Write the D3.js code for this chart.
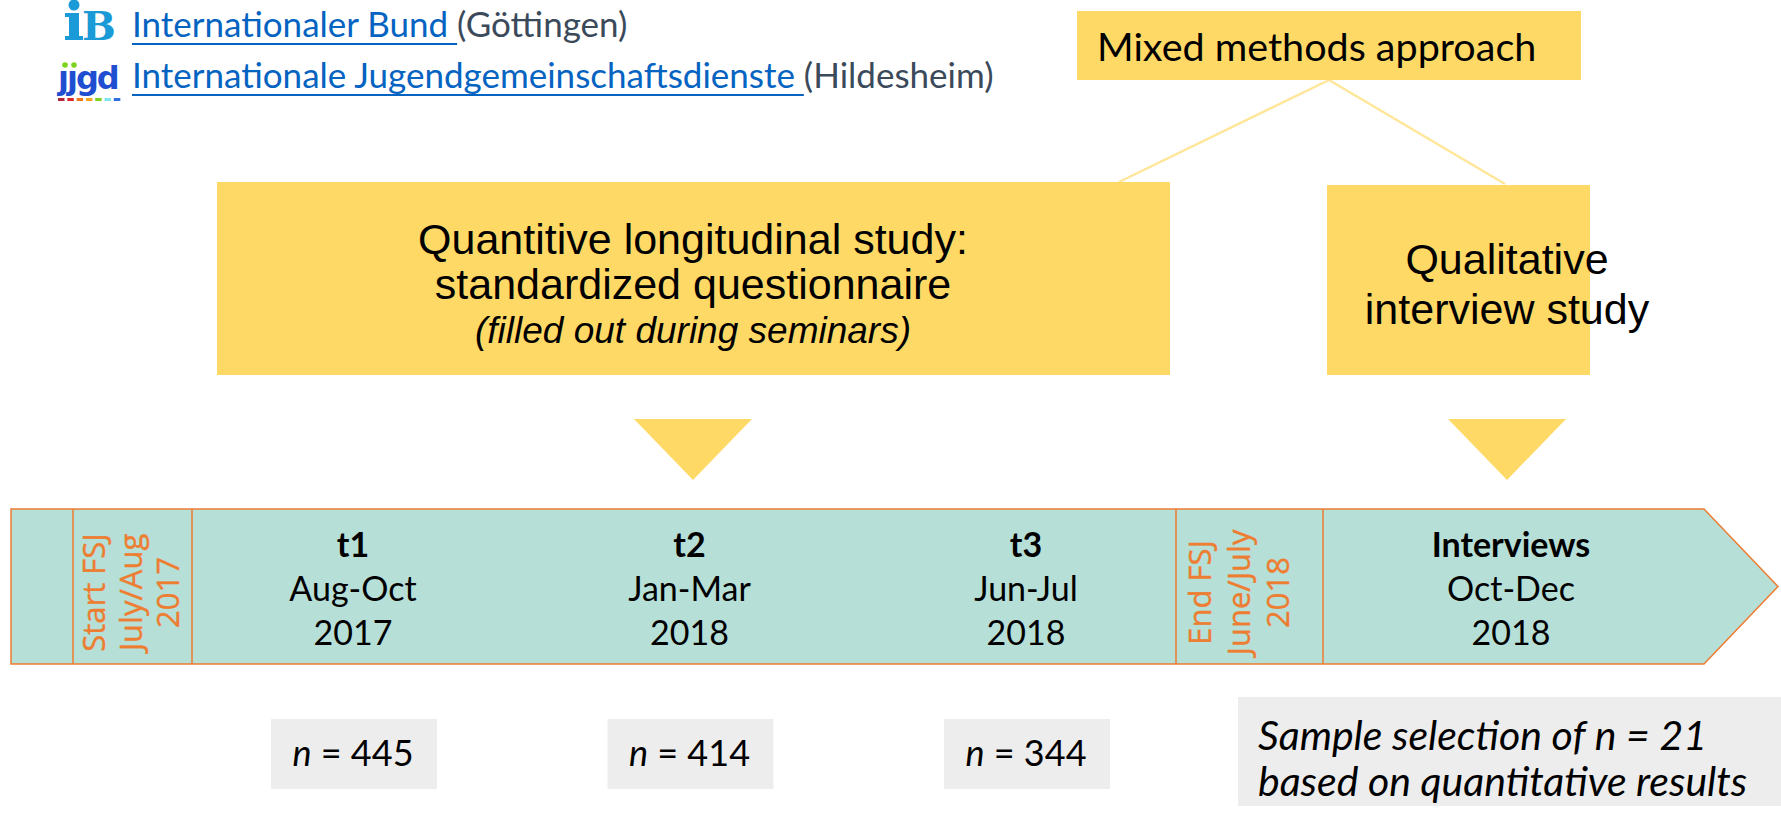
<!DOCTYPE html>
<html>
<head>
<meta charset="utf-8">
<script src="https://cdn.jsdelivr.net/npm/d3@7"></script>
<style>
  body { margin: 0; background: #fff; }
  svg { display: block; }
</style>
</head>
<body>
<svg id="chart" width="1781" height="813"></svg>
<script>
// --- data ---
var orgNames = ["Internationaler Bund ", "Internationale Jugendgemeinschaftsdienste "];
var orgCities = ["(Göttingen)", "(Hildesheim)"];
var methodTitle = "Mixed methods approach";
var quantLines = ["Quantitive longitudinal study:", "standardized questionnaire"];
var quantNote = "(filled out during seminars)";
var qualLines = ["Qualitative", "interview study"];
var fsjStart = ["Start FSJ", "July/Aug", "2017"];
var fsjEnd = ["End FSJ", "June/July", "2018"];
var waves = ["t1", "t2", "t3"];
var wavePeriods = ["Aug-Oct", "Jan-Mar", "Jun-Jul"];
var waveYears = ["2017", "2018", "2018"];
var waveN = [445, 414, 344];
var interviewLines = ["Interviews", "Oct-Dec", "2018"];
var sampleLines = ["Sample selection of n = 21", "based on quantitative results"];

var yellow = "#ffd966", teal = "#b6dfd7", orange = "#ed7d31", grey = "#ededed";
var calibri = "Lato, 'Open Sans', sans-serif";
var arial = "'Liberation Sans', Arial, sans-serif";

var svg = d3.select("#chart");
svg.append("rect").attr("width", 1781).attr("height", 813).attr("fill", "#fff");

var x = d3.scalePoint().domain(waves).range([353, 1026]);

// header logos + links
var ibBlue = "#1a9ad6";
var ib = svg.append("g").attr("fill", ibBlue);
// the "I" of the logo is drawn by hand (stem, serifs, dot)
ib.append("rect").attr("x", 69).attr("y", 13).attr("width", 10).attr("height", 27);
ib.append("rect").attr("x", 65).attr("y", 13).attr("width", 14).attr("height", 4);
ib.append("rect").attr("x", 65).attr("y", 36).attr("width", 18).attr("height", 4);
ib.append("circle").attr("cx", 74).attr("cy", 5).attr("r", 5.5);
ib.append("text").attr("x", 82).attr("y", 40)
  .attr("font-family", "'DejaVu Serif', serif").attr("font-weight", "bold")
  .attr("font-size", 40).text("B");

// jjgd logo (dotless j's with green dots, colour dashes below)
var jj = svg.append("g");
jj.append("text").attr("x", 58).attr("y", 89)
  .attr("font-family", "'DejaVu Sans', sans-serif").attr("font-weight", "bold")
  .attr("font-size", 32).attr("fill", "#1f4fd0").attr("letter-spacing", -2).text("\u0237\u0237gd");
jj.selectAll("circle").data([65, 74]).enter().append("circle")
  .attr("cx", function(d) { return d; }).attr("cy", 65).attr("r", 2.8).attr("fill", "#7ed321");
jj.selectAll("rect.dash")
  .data(["#b0263a", "#e02a2a", "#f07a1a", "#f5a623", "#7ed321", "#7fe5f0", "#2f6fe0"])
  .enter().append("rect").attr("class", "dash")
  .attr("x", function(d, i) { return 58 + i * 9.3; }).attr("y", 98)
  .attr("width", 6.5).attr("height", 3).attr("fill", function(d) { return d; });

var header = svg.selectAll("text.org").data(orgNames).enter().append("text")
  .attr("class", "org")
  .attr("x", 132).attr("y", function(d, i) { return 37 + i * 51; })
  .attr("font-family", calibri).attr("font-size", 35);
header.append("tspan").attr("class", "link").attr("fill", "#0563c1").text(function(d) { return d; });
header.append("tspan").attr("fill", "#3b4a5a").text(function(d, i) { return orgCities[i]; });
header.each(function(d, i) {
  var w = d3.select(this).select("tspan.link").node().getComputedTextLength();
  svg.append("line").attr("x1", 132).attr("x2", 132 + w)
    .attr("y1", 44 + i * 51).attr("y2", 44 + i * 51)
    .attr("stroke", "#0563c1").attr("stroke-width", 2);
});

// connectors from mixed methods box
svg.selectAll("line.conn").data([[1119, 182], [1505, 184]]).enter().append("line")
  .attr("class", "conn")
  .attr("x1", 1329).attr("y1", 80)
  .attr("x2", function(d) { return d[0]; }).attr("y2", function(d) { return d[1]; })
  .attr("stroke", "#ffe699").attr("stroke-width", 2.5);

// mixed methods box
svg.append("rect").attr("x", 1077).attr("y", 11).attr("width", 504).attr("height", 69).attr("fill", yellow);
svg.append("text").attr("x", 1097).attr("y", 61)
  .attr("font-family", calibri).attr("font-size", 39.5).attr("fill", "#000").text(methodTitle);

// quantitative box
svg.append("rect").attr("x", 217).attr("y", 182).attr("width", 953).attr("height", 193).attr("fill", yellow);
svg.selectAll("text.quant").data(quantLines).enter().append("text")
  .attr("class", "quant").attr("x", 693).attr("y", function(d, i) { return 254 + i * 45; })
  .attr("text-anchor", "middle").attr("font-family", arial).attr("font-size", 43)
  .attr("fill", "#000").text(function(d) { return d; });
svg.append("text").attr("x", 693).attr("y", 343).attr("text-anchor", "middle")
  .attr("font-family", arial).attr("font-style", "italic").attr("font-size", 37)
  .attr("fill", "#000").text(quantNote);

// qualitative box
svg.append("rect").attr("x", 1327).attr("y", 185).attr("width", 263).attr("height", 190).attr("fill", yellow);
svg.selectAll("text.qual").data(qualLines).enter().append("text")
  .attr("class", "qual").attr("x", 1507).attr("y", function(d, i) { return 274 + i * 50; })
  .attr("text-anchor", "middle").attr("font-family", arial).attr("font-size", 43)
  .attr("fill", "#000").text(function(d) { return d; });

// down triangles
svg.selectAll("path.tri").data([693, 1507]).enter().append("path")
  .attr("class", "tri")
  .attr("d", function(d) { return "M" + (d - 59) + ",419 L" + (d + 59) + ",419 L" + d + ",480 Z"; })
  .attr("fill", yellow);

// timeline arrow
var bandTop = 509, bandBot = 664, bandMid = (bandTop + bandBot) / 2;
svg.append("path")
  .attr("d", "M11," + bandTop + " L1704," + bandTop + " L1778," + bandMid + " L1704," + bandBot + " L11," + bandBot + " Z")
  .attr("fill", teal).attr("stroke", orange).attr("stroke-width", 1.5);
svg.selectAll("line.div").data([73, 192, 1176, 1323]).enter().append("line")
  .attr("class", "div").attr("x1", function(d) { return d; }).attr("x2", function(d) { return d; })
  .attr("y1", bandTop).attr("y2", bandBot).attr("stroke", orange).attr("stroke-width", 1.5);

function rotated(lines, cx, sp) {
  svg.selectAll(null).data(lines).enter().append("text")
    .attr("transform", function(d, i) { return "translate(" + (cx + (i - 1) * sp + 10) + "," + (bandMid + 6) + ") rotate(-90)"; })
    .attr("text-anchor", "middle").attr("font-family", "'Open Sans', 'Noto Sans', sans-serif")
    .attr("font-size", 31).attr("fill", orange).attr("stroke", orange).attr("stroke-width", 0.4)
    .text(function(d) { return d; });
}
rotated(fsjStart, 132, 37);
rotated(fsjEnd, 1240, 39);

function column(lines, cx) {
  svg.selectAll(null).data(lines).enter().append("text")
    .attr("x", cx).attr("y", function(d, i) { return 557 + i * 44; })
    .attr("text-anchor", "middle").attr("font-family", calibri).attr("font-size", 34)
    .attr("font-weight", function(d, i) { return i === 0 ? "bold" : "normal"; })
    .attr("fill", "#000").text(function(d) { return d; });
}
waves.forEach(function(w, i) { column([w, wavePeriods[i], waveYears[i]], x(w)); });
column(interviewLines, 1511);

// n boxes
var nb = svg.selectAll("g.nbox").data(waves).enter().append("g").attr("class", "nbox");
nb.append("rect").attr("x", function(d) { return x(d) - 82; }).attr("y", 719)
  .attr("width", 166).attr("height", 70).attr("fill", grey);
var nt = nb.append("text").attr("x", function(d) { return x(d); }).attr("y", 766)
  .attr("text-anchor", "middle").attr("font-family", calibri).attr("font-size", 36).attr("fill", "#000");
nt.append("tspan").attr("font-style", "italic").text("n");
nt.append("tspan").text(function(d, i) { return " = " + waveN[i]; });

// sample box
svg.append("rect").attr("x", 1238).attr("y", 697).attr("width", 543).attr("height", 109).attr("fill", grey);
svg.selectAll("text.sample").data(sampleLines).enter().append("text")
  .attr("class", "sample").attr("x", 1258).attr("y", function(d, i) { return 750 + i * 46; })
  .attr("font-family", calibri).attr("font-style", "italic").attr("font-size", 41)
  .attr("fill", "#000").text(function(d) { return d; });
</script>
</body>
</html>
